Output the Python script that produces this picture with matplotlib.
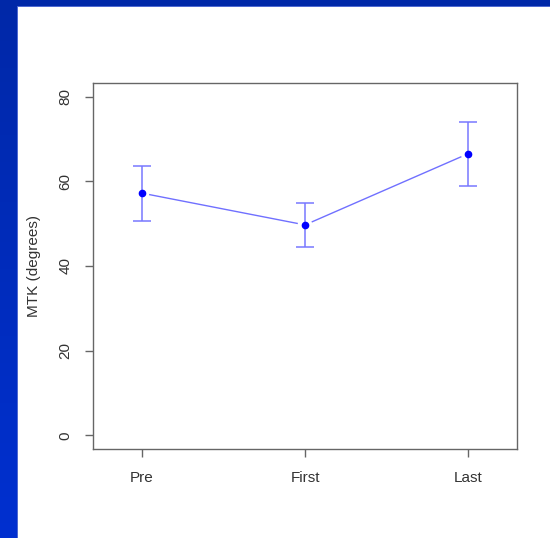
import matplotlib.pyplot as plt
from matplotlib.colors import LinearSegmentedColormap
import numpy as np

plt.rcParams["font.family"] = ["Liberation Sans", "DejaVu Sans"]

phases = ["Pre", "First", "Last"]
mtk_mean = [57.2, 49.7, 66.5]
mtk_err = [6.5, 5.1, 7.6]
y_ticks = [0, 20, 40, 60, 80]


def main():
    fig = plt.figure(figsize=(5.5, 5.38), dpi=100)
    fig.patch.set_facecolor("white")

    # slide background: blue strips along the top and left edge
    bg = fig.add_axes([0, 0, 1, 1], zorder=-10)
    grad = np.linspace(0, 1, 256).reshape(-1, 1)
    slide = LinearSegmentedColormap.from_list("slide", ["#0028a8", "#0030d0"])
    bg.imshow(grad, extent=[0, 17, 0, 538], aspect="auto", cmap=slide)
    bg.fill_between([0, 550], 532, 538, color="#0028a8", lw=0)
    bg.plot([17, 17], [0, 532], color="#4a66d0", lw=0.7)
    bg.plot([17, 550], [532, 532], color="#4a66d0", lw=0.7)
    bg.set_xlim(0, 550)
    bg.set_ylim(0, 538)
    bg.axis("off")

    ax = fig.add_axes([93 / 550, 1 - 449 / 538, 424 / 550, 366 / 538])
    x = np.arange(1, len(phases) + 1)
    ax.set_xlim(0.7, 3.3)
    ax.set_ylim(-3.2, 83.2)

    # connecting line with small gaps around each point (R type="b")
    fig.canvas.draw()
    pts = ax.transData.transform(np.column_stack([x, mtk_mean]))
    gap = 8 * fig.dpi / 100
    inv = ax.transData.inverted()
    for i in range(len(pts) - 1):
        p0, p1 = pts[i], pts[i + 1]
        d = (p1 - p0) / np.hypot(*(p1 - p0))
        seg = inv.transform(np.array([p0 + d * gap, p1 - d * gap]))
        ax.plot(seg[:, 0], seg[:, 1], color="#7070ff", lw=1.0)

    ax.errorbar(x, mtk_mean, yerr=mtk_err, fmt="none", ecolor="#7878ff",
                elinewidth=1.1, capsize=6.8, capthick=1.1)
    ax.plot(x, mtk_mean, "o", color="#0000ff", ms=4.5)

    ax.set_xticks(x)
    ax.set_xticklabels(phases)
    ax.set_yticks(y_ticks)
    ax.set_yticklabels([str(v) for v in y_ticks])
    ax.set_ylabel("MTK (degrees)", fontsize=11, color="#333333", labelpad=12)

    for s in ax.spines.values():
        s.set_color("#666666")
        s.set_linewidth(1.0)
    ax.tick_params(axis="both", colors="#666666", labelcolor="#333333",
                   labelsize=11, length=6, width=1.0)
    ax.tick_params(axis="x", pad=10)
    ax.tick_params(axis="y", pad=9, labelrotation=90)
    for lab in ax.get_yticklabels():
        lab.set_verticalalignment("center")

    fig.savefig("out.png", dpi=100)


if __name__ == "__main__":
    main()
